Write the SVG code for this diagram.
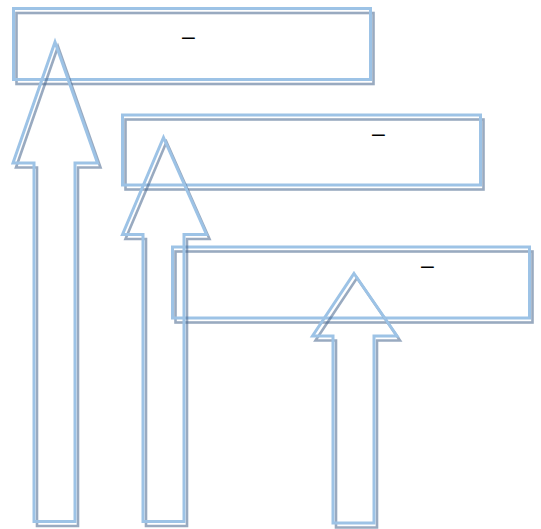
<svg xmlns="http://www.w3.org/2000/svg" xmlns:xlink="http://www.w3.org/1999/xlink" width="541" height="529" viewBox="0 0 541 529">
<style>
.sh{fill:none;stroke:#46648c;stroke-opacity:0.55;stroke-width:2.6;stroke-linejoin:miter}
.ln{fill:none;stroke:#9dc3e6;stroke-width:3;stroke-linejoin:miter}
.t{font-family:"Liberation Sans",Arial,sans-serif;font-size:23px;fill:#000}
</style>
<defs>
<rect id="r1" x="13.5" y="8.5" width="357" height="71"/>
<rect id="r2" x="122.5" y="115" width="358" height="70"/>
<rect id="r3" x="172.5" y="247" width="357" height="71"/>
<path id="a1" d="M55,42 L97.5,163 L75,163 L75,521.5 L34,521.5 L34,163 L13,163 Z"/>
<path id="a2" d="M163.5,137.5 L206.5,234.5 L184,234.5 L184,521.5 L143,521.5 L143,234.5 L122.5,234.5 Z"/>
<path id="a3" d="M354,273.5 L397,336 L374,336 L374,523 L333,523 L333,336 L312.5,336 Z"/>
</defs>
<rect width="541" height="529" fill="#fff"/>
<g id="box1">
<use href="#r1" class="sh" transform="translate(3,4.5)"/>
<use href="#r1" class="ln"/>
<text class="t" x="182" y="44">–</text>
</g>
<g id="box2">
<use href="#r2" class="sh" transform="translate(3,4.5)"/>
<use href="#r2" class="ln"/>
<text class="t" x="372" y="141">–</text>
</g>
<g id="box3">
<use href="#r3" class="sh" transform="translate(3,4.5)"/>
<use href="#r3" class="ln"/>
<text class="t" x="421" y="273">–</text>
</g>
<g id="connectors">
<g id="arrow1">
<use href="#a1" class="sh" transform="translate(3,4.5)"/>
<use href="#a1" class="ln"/>
</g>
<g id="arrow2">
<use href="#a2" class="sh" transform="translate(3,4.5)"/>
<use href="#a2" class="ln"/>
</g>
<g id="arrow3">
<use href="#a3" class="sh" transform="translate(3,4.5)"/>
<use href="#a3" class="ln"/>
</g>
</g>
</svg>
